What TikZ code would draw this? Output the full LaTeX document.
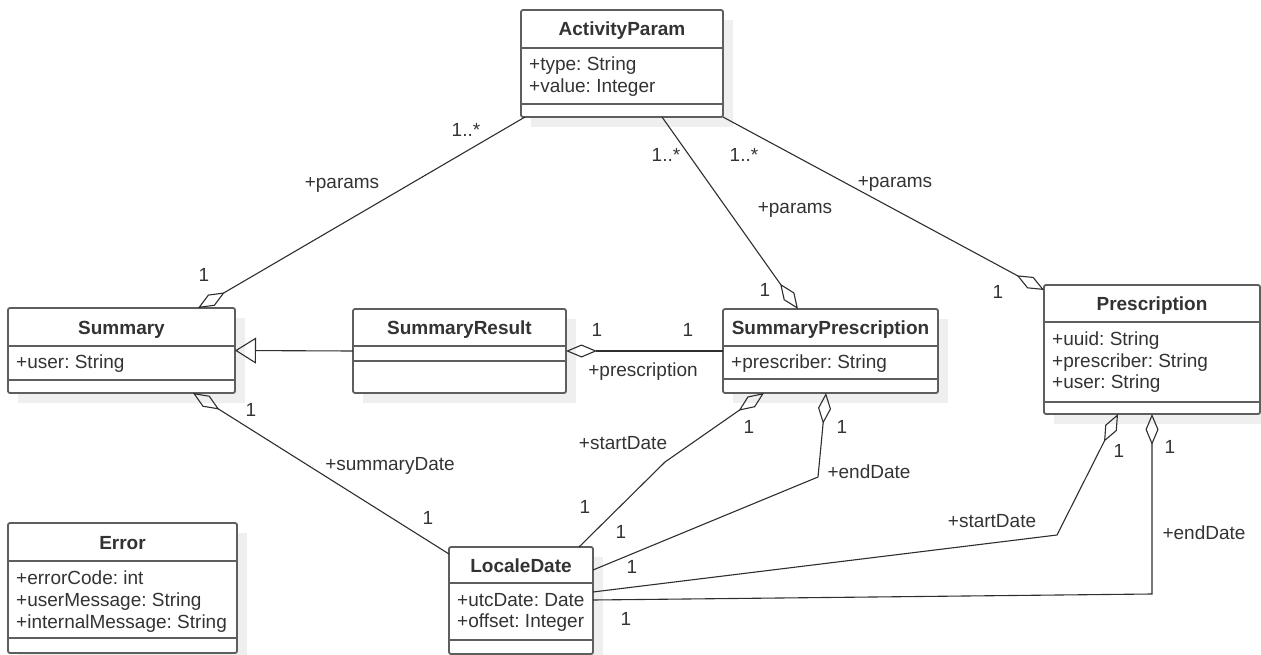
\documentclass[tikz,border=0pt]{standalone}
\usepackage{fontspec}
\setmainfont{Liberation Sans}
\usetikzlibrary{arrows.meta,calc}
\definecolor{boxline}{HTML}{5E5E5E}
\definecolor{connc}{HTML}{2E2E2E}
\definecolor{txt}{HTML}{333333}
\definecolor{shadowc}{HTML}{EFEFEF}
\frenchspacing
\tikzset{
  Agg/.tip={Diamond[open,length=31pt,width=13pt]},
  Gen/.tip={Triangle[open,length=21pt,width=26pt]},
  classbox/.style={draw=boxline, line width=1.8pt, fill=white, rounded corners=2pt, anchor=north west, inner sep=0pt, outer sep=0pt},
  sepline/.style={draw=boxline, line width=1.8pt},
  conn/.style={draw=connc, line width=1.1pt},
  lbl/.style={text=txt, inner sep=0pt, font=\fontsize{19}{22}\selectfont},
  ctitle/.style={text=txt, inner sep=0pt, anchor=base, font=\fontsize{19}{22}\selectfont\bfseries},
  cattr/.style={text=txt, inner sep=0pt, anchor=base west, font=\fontsize{19}{22}\selectfont},
}
% #1 name, #2 x1, #3 y1, #4 x2, #5 y2, #6 header line, #7 attr line, #8 title
\newcommand{\umlclassbox}[8]{%
  \fill[shadowc] (#2+10,#3+10) rectangle (#4+10,#5+10);
  \node[classbox, minimum width={#4-#2}, minimum height={#5-#3}] (#1) at (#2,#3) {};
  \draw[sepline] (#2,#6) -- (#4,#6);
  \draw[sepline] (#2,#7) -- (#4,#7);
  \node[ctitle] (#1-t) at ({(#2+#4)/2},{(#3+#6)/2+7}) {#8};
}
\begin{document}
\begin{tikzpicture}[x=1pt,y=-1pt]
\useasboundingbox (0,0) rectangle (1261,655);

% classes
\umlclassbox{AP}{521}{10}{723}{117}{48}{104}{ActivityParam}
\node[cattr] (AP-a1) at (529,71) {+type: String};
\node[cattr] (AP-a2) at (529,93) {+value: Integer};

\umlclassbox{SUM}{8}{308}{235}{393}{346}{380}{Summary}
\node[cattr] (SUM-a1) at (16,368.5) {+user: String};

\umlclassbox{SR}{353}{309}{566}{393}{346}{361}{SummaryResult}

\umlclassbox{SP}{723}{309}{938}{393}{346}{379}{SummaryPrescription}
\node[cattr] (SP-a1) at (731,368.5) {+prescriber: String};

\umlclassbox{PR}{1044}{285}{1260}{414}{322}{402}{Prescription}
\node[cattr] (PR-a1) at (1052,345.5) {+uuid: String};
\node[cattr] (PR-a2) at (1052,367) {+prescriber: String};
\node[cattr] (PR-a3) at (1052,388.5) {+user: String};

\umlclassbox{ERR}{8}{523}{237}{653}{561}{638}{Error}
\node[cattr] (ERR-a1) at (16,584) {+errorCode: int};
\node[cattr] (ERR-a2) at (16,606) {+userMessage: String};
\node[cattr] (ERR-a3) at (16,628) {+internalMessage: String};

\umlclassbox{LD}{449}{547}{593}{654}{583}{640}{LocaleDate}
\node[cattr] (LD-a1) at (457,606) {+utcDate: Date};
\node[cattr] (LD-a2) at (457,627.5) {+offset: Integer};

% bend points
\coordinate (c7) at (665,462);
\coordinate (c8) at (818,477);
\coordinate (c9) at (1057,535);
\coordinate (c10) at (1152,594);

% connectors
\draw[conn, -Agg] ($(AP.south west)+(4,0)$) -- ($(SUM.north west)+(190,0)$);
\draw[conn, -Agg] ($(AP.south west)+(141,0)$) -- ($(SP.north west)+(75,0)$);
\draw[conn, -Agg] (AP.south east) -- ($(PR.north west)+(0,5)$);
\draw[conn, -Gen] (SR.west) -- (SUM.east);
\draw[conn, -Agg] (SP.west) -- (SR.east);
\draw[conn, Agg-] ($(SUM.south west)+(185,0)$) -- ($(LD.north west)+(0,7)$);
\draw[conn, -Agg] ($(LD.north west)+(130,0)$) -- (c7) -- ($(SP.south west)+(41,0)$);
\draw[conn, -Agg] ($(LD.north east)+(0,23)$) -- (c8) -- ($(SP.south west)+(103,0)$);
\draw[conn, -Agg] ($(LD.north east)+(0,45)$) -- (c9) -- ($(PR.south west)+(74,0)$);
\draw[conn, -Agg] ($(LD.north east)+(0,53)$) -- (c10) -- ($(PR.south west)+(108,0)$);

% labels
\node[lbl] (l1a) at (466,130) {1..*};
\node[lbl] (l1b) at (342,185) {+params};
\node[lbl] (l1c) at (204,275) {1};
\node[lbl] (l2a) at (666,155) {1..*};
\node[lbl] (l2b) at (795,210) {+params};
\node[lbl] (l2c) at (765,290) {1};
\node[lbl] (l3a) at (744,155) {1..*};
\node[lbl] (l3b) at (895,184) {+params};
\node[lbl] (l3c) at (998,292) {1};
\node[lbl] (l4a) at (597,330) {1};
\node[lbl] (l4b) at (688,330) {1};
\node[lbl] (l4c) at (643,372) {+prescription};
\node[lbl] (l6a) at (251,410) {1};
\node[lbl] (l6b) at (390,466) {+summaryDate};
\node[lbl] (l6c) at (428,518) {1};
\node[lbl] (l7a) at (623,443) {+startDate};
\node[lbl] (l7b) at (749,427) {1};
\node[lbl] (l7c) at (585,507) {1};
\node[lbl] (l8a) at (869,472) {+endDate};
\node[lbl] (l8b) at (842,427) {1};
\node[lbl] (l8c) at (621,532) {1};
\node[lbl] (l9a) at (992,521) {+startDate};
\node[lbl] (l9b) at (1119,451) {1};
\node[lbl] (l9c) at (632,567) {1};
\node[lbl] (l10a) at (1204,533) {+endDate};
\node[lbl] (l10b) at (1170,447) {1};
\node[lbl] (l10c) at (626,619) {1};
\end{tikzpicture}
\end{document}
